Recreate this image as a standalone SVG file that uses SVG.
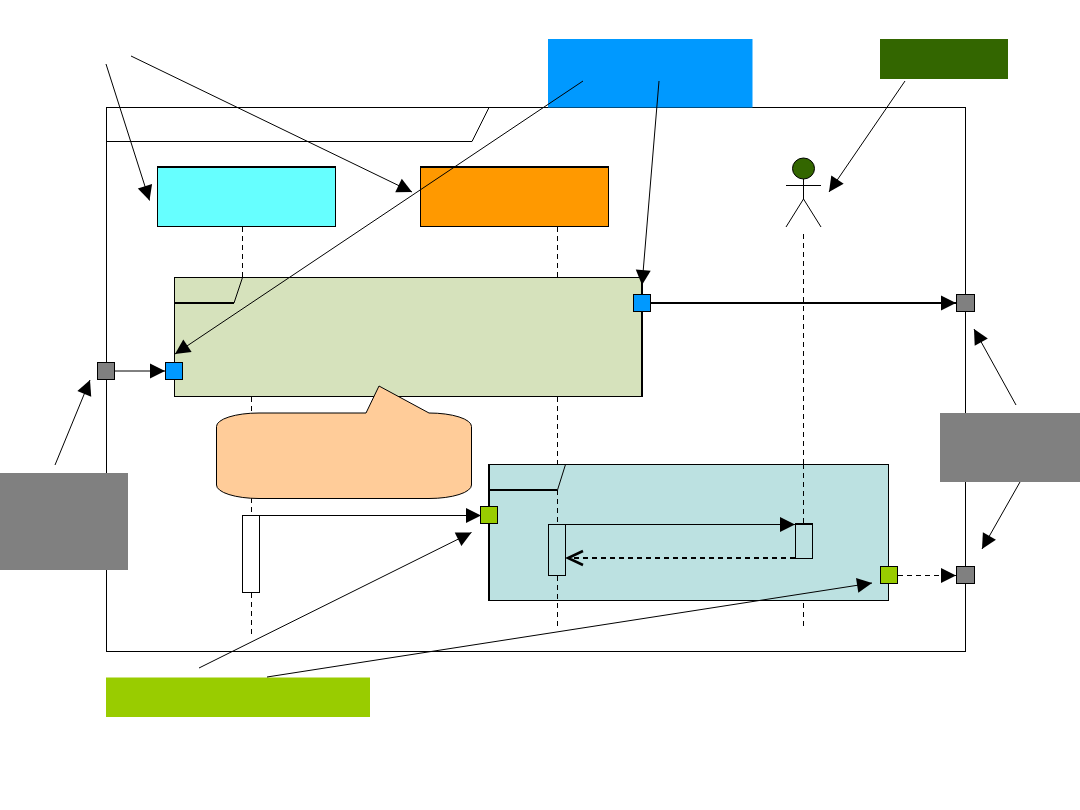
<svg xmlns="http://www.w3.org/2000/svg" width="1080" height="810" viewBox="0 0 1080 810">
  <style>
    .ln { fill: none; stroke: #000; stroke-width: 1; }
    .box { stroke: #000; stroke-width: 1; }
    .heavy { fill: none; stroke: #000; stroke-width: 2; }
    .dash { fill: none; stroke: #000; stroke-width: 1; stroke-dasharray: 5 4; }
    .arrow { marker-end: url(#head); }
    .cyan { fill: #66FFFF; }
    .orange { fill: #FF9900; }
    .sage { fill: #D6E2BC; }
    .teal { fill: #BCE1E1; }
    .blue { fill: #0099FF; }
    .grey { fill: #808080; }
    .lime { fill: #99CC00; }
    .forest { fill: #336600; }
  </style>
  <defs>
    <marker id="head" markerUnits="userSpaceOnUse" markerWidth="18" markerHeight="18" refX="16" refY="9" orient="auto">
      <path d="M1 1.500 L16 9 L1 16.500 Z" fill="#000"/>
    </marker>
    <marker id="open" markerUnits="userSpaceOnUse" markerWidth="20" markerHeight="20" refX="18" refY="10" orient="auto">
      <path d="M2 3 L17 10 L2 17" fill="none" stroke="#000" stroke-width="2.500"/>
    </marker>
  </defs>

  <g id="frame">
    <rect class="ln" x="106.500" y="107.500" width="859" height="544"/>
    <path class="ln" d="M106.500 141.500 H472 L489 107.500"/>
  </g>

  <g id="lifelines">
    <path class="dash" d="M242.500 227 V277"/>
    <path class="dash" d="M557.500 227 V277"/>
    <path class="dash" d="M803.500 234 V524"/>
    <path class="dash" d="M803.500 558 V627"/>
    <path class="dash" d="M251.500 397 V413"/>
    <path class="dash" d="M251.500 498 V515"/>
    <path class="dash" d="M251.500 593 V636"/>
    <path class="dash" d="M557.500 397 V464"/>
  </g>

  <g id="lifeline-a">
    <rect class="box cyan" x="157.500" y="167.500" width="178" height="59"/>
    <path class="heavy" d="M157 167 H336"/>
  </g>
  <g id="lifeline-b">
    <rect class="box orange" x="420.500" y="167.500" width="188" height="59"/>
    <path class="heavy" d="M420 167 H609"/>
  </g>

  <g id="actor">
    <ellipse cx="803.500" cy="168.500" rx="11" ry="10.500" class="forest" stroke="#000"/>
    <path class="ln" d="M803.500 179 V199 M786 185.500 H821 M786 227 L803.500 199 L821 227"/>
  </g>

  <g id="fragment-upper">
    <rect class="box sage" x="174.500" y="277.500" width="467" height="119"/>
    <path class="heavy" d="M642 277 V397"/>
    <path class="heavy" d="M175 303 H234"/>
    <path class="ln" d="M234 303 L242.500 277.500"/>
  </g>

  <g id="note">
    <path class="box" fill="#FFCC99" d="M366 413 L379 386 L429 413 A42.500 13.500 0 0 1 471.500 426.500 V485 A42.500 13.500 0 0 1 429 498.500 H259 A42.500 13.500 0 0 1 216.500 485 V426.500 A42.500 13.500 0 0 1 259 413 Z"/>
  </g>

  <g id="fragment-lower">
    <rect class="box teal" x="489.500" y="464.500" width="399" height="136"/>
    <path class="heavy" d="M489 464 V601"/>
    <path class="heavy" d="M490 490 H557"/>
    <path class="ln" d="M557.500 490 L565.500 464.500"/>
    <path class="dash" d="M557.500 490 V524 M557.500 576 V628"/>
    <path class="dash" d="M803.500 464 V524"/>
  </g>

  <g id="activation-a"><rect class="box" fill="#fff" x="242.500" y="515.500" width="17" height="77"/></g>
  <g id="activation-b"><rect class="box teal" x="548.500" y="524.500" width="17" height="51"/></g>
  <g id="activation-c">
    <rect class="box teal" x="795.500" y="524.500" width="17" height="34"/>
    <path class="heavy" d="M795 524 H813"/>
  </g>

  <g id="label-blue"><rect class="blue" x="548" y="39" width="204.500" height="68.500"/></g>
  <g id="label-forest"><rect class="forest" x="880" y="39" width="128" height="40"/></g>
  <g id="label-grey-right"><rect class="grey" x="940" y="413" width="140" height="69"/></g>
  <g id="label-grey-left"><rect class="grey" x="0" y="473" width="128" height="97"/></g>
  <g id="label-lime"><rect class="lime" x="106" y="677.500" width="264" height="39.500"/></g>

  <g id="connectors">
    <path class="ln" marker-end="url(#head)" d="M115 371 H165"/>
    <path class="heavy" marker-end="url(#head)" d="M650 303 H956"/>
    <path class="ln" marker-end="url(#head)" d="M260 515.500 H481"/>
    <path class="ln" marker-end="url(#head)" d="M566 524.500 H795"/>
    <path class="dash" style="stroke-width:2" marker-end="url(#open)" d="M795 558 H567"/>
    <path class="dash" marker-end="url(#head)" d="M898 575.500 H956"/>

    <path class="ln arrow" d="M106 64 L149.500 200.500"/>
    <path class="ln arrow" d="M131 56 L412 192"/>
    <path class="ln arrow" d="M583 81 L175 354"/>
    <path class="ln arrow" d="M659 81 L642 285"/>
    <path class="ln arrow" d="M905 81 L829 192"/>
    <path class="ln arrow" d="M1016 405 L974 329"/>
    <path class="ln arrow" d="M1020 482 L982 549"/>
    <path class="ln arrow" d="M55 465 L90 380"/>
    <path class="ln arrow" d="M199 668 L471.500 532.500"/>
    <path class="ln arrow" d="M267 677 L872 583"/>
  </g>

  <g id="port-left-outer"><rect class="box grey" x="97.500" y="362.500" width="17" height="17"/></g>
  <g id="port-left-inner"><rect class="box blue" x="165.500" y="362.500" width="17" height="17"/></g>
  <g id="port-top-inner"><rect class="box blue" x="633.500" y="294.500" width="17" height="17"/></g>
  <g id="port-top-outer"><rect class="box grey" x="956.500" y="294.500" width="18" height="17"/></g>
  <g id="port-lower-in"><rect class="box lime" x="480.500" y="506.500" width="17" height="17"/></g>
  <g id="port-lower-out"><rect class="box lime" x="880.500" y="566.500" width="17" height="17"/></g>
  <g id="port-lower-outer"><rect class="box grey" x="956.500" y="566.500" width="18" height="17"/></g>
</svg>
